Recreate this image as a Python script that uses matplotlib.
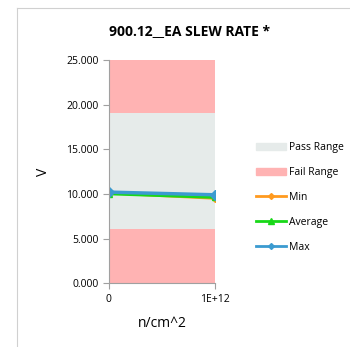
import matplotlib.pyplot as plt
from matplotlib.patches import Patch
from matplotlib.lines import Line2D

x_vals = [0, 1e12]
x_labels = ["0", "1E+12"]
fail_low = [6.1, 6.1]
pass_top = [19.1, 19.1]
y_top = [25.0, 25.0]
min_vals = [10.1, 9.5]
avg_vals = [10.0, 9.6]
max_vals = [10.2, 9.9]
y_ticks = [0, 5, 10, 15, 20, 25]

PASS_COLOR = "#e6ebea"
FAIL_COLOR = "#ffb3b3"
MIN_COLOR = "#ff9a1f"
AVG_COLOR = "#18d818"
MAX_COLOR = "#3b9bd0"

plt.rcParams['font.family'] = ['Open Sans', 'DejaVu Sans']

fig = plt.figure(figsize=(3.5, 3.47), dpi=100)
fig.patch.set_facecolor("white")
ax = fig.add_axes([0.311, 0.184, 0.303, 0.643])

# Bandas de rango
ax.fill_between(x_vals, 0, fail_low, color=FAIL_COLOR, lw=0)
ax.fill_between(x_vals, fail_low, pass_top, color=PASS_COLOR, lw=0)
ax.fill_between(x_vals, pass_top, y_top, color=FAIL_COLOR, lw=0)

ax.plot(x_vals, min_vals, color=MIN_COLOR, lw=2, marker="D", ms=4)
ax.plot(x_vals, avg_vals, color=AVG_COLOR, lw=2, marker="^", ms=5)
ax.plot(x_vals, max_vals, color=MAX_COLOR, lw=2.5, marker="D", ms=5)

ax.set_xlim(0, 1e12)
ax.set_ylim(0, 25)
ax.set_xticks(x_vals)
ax.set_xticklabels(x_labels, fontsize=7.5)
ax.set_yticks(y_ticks)
ax.set_yticklabels([f"{v:.3f}" for v in y_ticks], fontsize=7.5)
for s in ["top", "right"]:
    ax.spines[s].set_visible(False)
for s in ["left", "bottom"]:
    ax.spines[s].set_color("#a0a0a0")
ax.tick_params(colors="#a0a0a0", labelcolor="black", length=4, width=0.8)
ax.set_ylabel("V", fontsize=10, labelpad=11)
ax.set_xlabel("n/cm^2", fontsize=10, labelpad=8)

fig.text(190/350, 1 - 31/347, "900.12__EA SLEW RATE *", fontsize=10,
         fontweight="bold", ha="center", va="center")

handles = [
    Patch(color=PASS_COLOR, label="Pass Range"),
    Patch(color=FAIL_COLOR, label="Fail Range"),
    Line2D([0], [0], color=MIN_COLOR, lw=2, marker="D", ms=3, label="Min"),
    Line2D([0], [0], color=AVG_COLOR, lw=2, marker="^", ms=4, label="Average"),
    Line2D([0], [0], color=MAX_COLOR, lw=2, marker="D", ms=3, label="Max"),
]
fig.legend(handles=handles, loc="upper left", bbox_to_anchor=(0.72, 0.602),
           frameon=False, fontsize=7.5, handlelength=2.9, handletextpad=0.25,
           labelspacing=1.33, borderaxespad=0)

# Marco del gráfico
fig.add_artist(plt.Line2D([17/350, 17/350], [0, 1 - 8/347], color="#d0d0d0", lw=0.8))
fig.add_artist(plt.Line2D([17/350, 1], [1 - 8/347, 1 - 8/347], color="#d0d0d0", lw=0.8))

fig.savefig("out.png", dpi=100)
